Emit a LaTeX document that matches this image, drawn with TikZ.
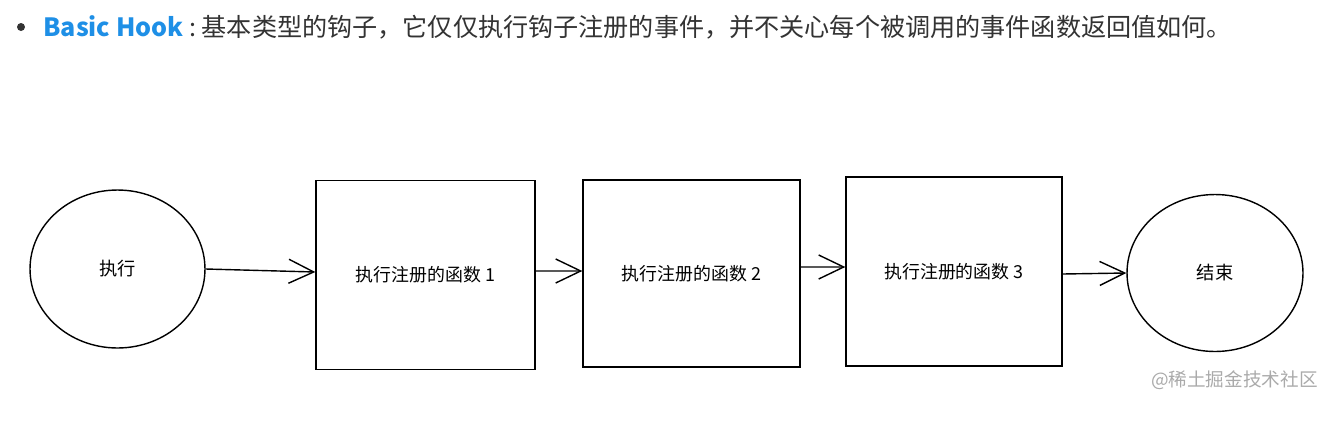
\documentclass[tikz,border=0pt]{standalone}
\usepackage{fontspec}
\setmainfont{Noto Sans CJK SC}
\usetikzlibrary{shapes.geometric,arrows.meta}
\definecolor{hookblue}{RGB}{30,143,230}
\definecolor{textgray}{RGB}{51,51,51}
\definecolor{markgray}{RGB}{170,170,170}
\begin{document}
\begin{tikzpicture}[x=0.02cm, y=-0.02cm,
  circ/.style={draw, ellipse, line width=0.8pt, inner sep=0pt, font=\fontsize{10.4pt}{12pt}\selectfont},
  func/.style={draw, rectangle, line width=0.8pt, inner sep=0pt, font=\fontsize{10.2pt}{12pt}\selectfont},
  arr/.style={line width=0.8pt, -{Straight Barb[length=0.5cm, width=0.48cm, line width=0.8pt]}}]
\useasboundingbox (0,0) rectangle (1342,427);
% heading line
\fill[textgray] (21,27) circle (4);
\node[anchor=west, inner sep=0pt, font=\fontsize{14.3pt}{17pt}\selectfont] (title) at (43,27)
  {\textcolor{hookblue}{\bfseries Basic Hook}\hspace{0.25em}\textcolor{textgray}{:\hspace{0.2em}基本类型的钩子，它仅仅执行钩子注册的事件，并不关心每个被调用的事件函数返回值如何。}};
% flow
\node[circ, minimum width=3.5cm, minimum height=3.16cm] (start) at (117.5,269) {执行};
\node[func, minimum width=4.38cm, minimum height=3.78cm] (f1) at (425.5,275) {执行注册的函数 1};
\node[func, minimum width=4.34cm, minimum height=3.74cm] (f2) at (691.5,273.5) {执行注册的函数 2};
\node[func, minimum width=4.32cm, minimum height=3.78cm] (f3) at (954,271.5) {执行注册的函数 3};
\node[circ, minimum width=3.52cm, minimum height=3.14cm] (stop) at (1215,273) {结束};
\draw[arr] (start.east) -- ([yshift=0.06cm]f1.west);
\draw[arr] ([yshift=0.08cm]f1.east) -- ([yshift=0.05cm]f2.west);
\draw[arr] ([yshift=0.13cm]f2.east) -- ([yshift=0.09cm]f3.west);
\draw[arr] ([yshift=-0.05cm]f3.east) -- (stop.west);
% watermark
\node[anchor=east, inner sep=0pt, text=markgray, font=\fontsize{10.6pt}{12pt}\selectfont] (mark) at (1318,380) {@稀土掘金技术社区};
\end{tikzpicture}
\end{document}
